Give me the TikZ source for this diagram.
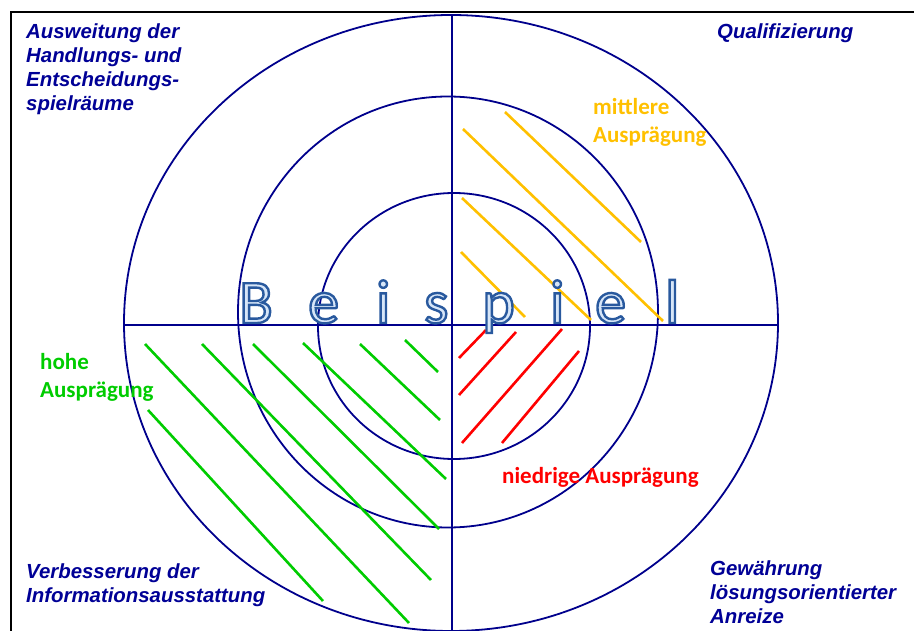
\documentclass[tikz,border=0pt]{standalone}
\usepackage{fontspec}
\newfontfamily\arialfont{Liberation Sans}
\newfontfamily\calibrifont{Carlito}
\definecolor{dimblue}{RGB}{0,0,150}
\definecolor{ringblue}{RGB}{0,0,140}
\definecolor{midyellow}{RGB}{255,192,0}
\definecolor{highgreen}{RGB}{0,204,0}
\definecolor{lowred}{RGB}{255,0,0}
\definecolor{wordfill}{RGB}{215,230,248}
\newcommand{\outlined}[1]{\special{pdf:literal direct 2 Tr 2.4 w 0.16 0.35 0.62 RG}#1\special{pdf:literal direct 0 Tr}}

\begin{document}
\begin{tikzpicture}[x=1pt, y=-1pt,
	dim/.style={inner sep=0, align=left, anchor=base west, text=dimblue,
		font=\arialfont\bfseries\itshape\fontsize{20.4}{24}\selectfont},
	level/.style={inner sep=0, align=left, anchor=base west,
		font=\calibrifont\bfseries\fontsize{23}{28}\selectfont},
	word/.style={inner sep=0, anchor=base west, text=wordfill,
		font=\calibrifont\fontsize{62}{62}\selectfont},
	ring/.style={draw=ringblue, line width=1.8pt},
	axis/.style={draw=ringblue, line width=2.6pt},
	hatch/.style={line width=2.6pt}]
\useasboundingbox (0,0) rectangle (914,631);

% frame
\draw[line width=2.6pt] (11,631) -- (11,12) -- (914,12);

% rings and axes
\coordinate (M) at (452,325);
\draw[ring] (451,323) ellipse [x radius=327, y radius=308];
\draw[ring] (448,312) ellipse [x radius=210, y radius=215.5];
\draw[ring] (454,326) ellipse [x radius=136, y radius=133];
\draw[axis] (124,325) -- (M) -- (778,325);
\draw[axis] (452,15) -- (M) -- (452,631);

% mittlere Auspraegung
\draw[hatch, midyellow] (505,112) -- (641,242);
\draw[hatch, midyellow] (463,129) -- (663,321);
\draw[hatch, midyellow] (462,198) -- (591,320);
\draw[hatch, midyellow] (461,252) -- (525,317);

% niedrige Auspraegung
\draw[hatch, lowred] (459,358) -- (486,330);
\draw[hatch, lowred] (459,395) -- (516,332);
\draw[hatch, lowred] (462,443) -- (562,329);
\draw[hatch, lowred] (502,443) -- (579,351);

% hohe Auspraegung
\draw[hatch, highgreen] (145,344) -- (409,623);
\draw[hatch, highgreen] (202,344) -- (431,580);
\draw[hatch, highgreen] (253,344) -- (439,529);
\draw[hatch, highgreen] (303,343) -- (446,479);
\draw[hatch, highgreen] (360,344) -- (440,420);
\draw[hatch, highgreen] (405,340) -- (438,372);
\draw[hatch, highgreen] (148,410) -- (323,601);

% dimensions (anchored at the last line)
\node[dim] (spielraum) at (26,111) {Ausweitung der\\Handlungs- und\\Entscheidungs-\\spielräume};
\node[dim] (quali) at (717,39) {Qualifizierung};
\node[dim] (info) at (26,602) {Verbesserung der\\Informationsausstattung};
\node[dim] (anreiz) at (710,623) {Gewährung\\lösungsorientierter\\Anreize};

% levels
\node[level, text=midyellow] (mittel) at (593,143) {mittlere\\Ausprägung};
\node[level, text=highgreen] (hoch) at (40,397) {hohe\\Ausprägung};
\node[level, text=lowred] (niedrig) at (502,483) {niedrige Ausprägung};

% Beispiel
\foreach \ch/\px [count=\n] in {B/239, e/308, i/376, s/424, p/482, i/550, e/595, l/665}
	\node[word] (beispiel\n) at (\px,323) {\outlined{\ch}};
\end{tikzpicture}
\end{document}
